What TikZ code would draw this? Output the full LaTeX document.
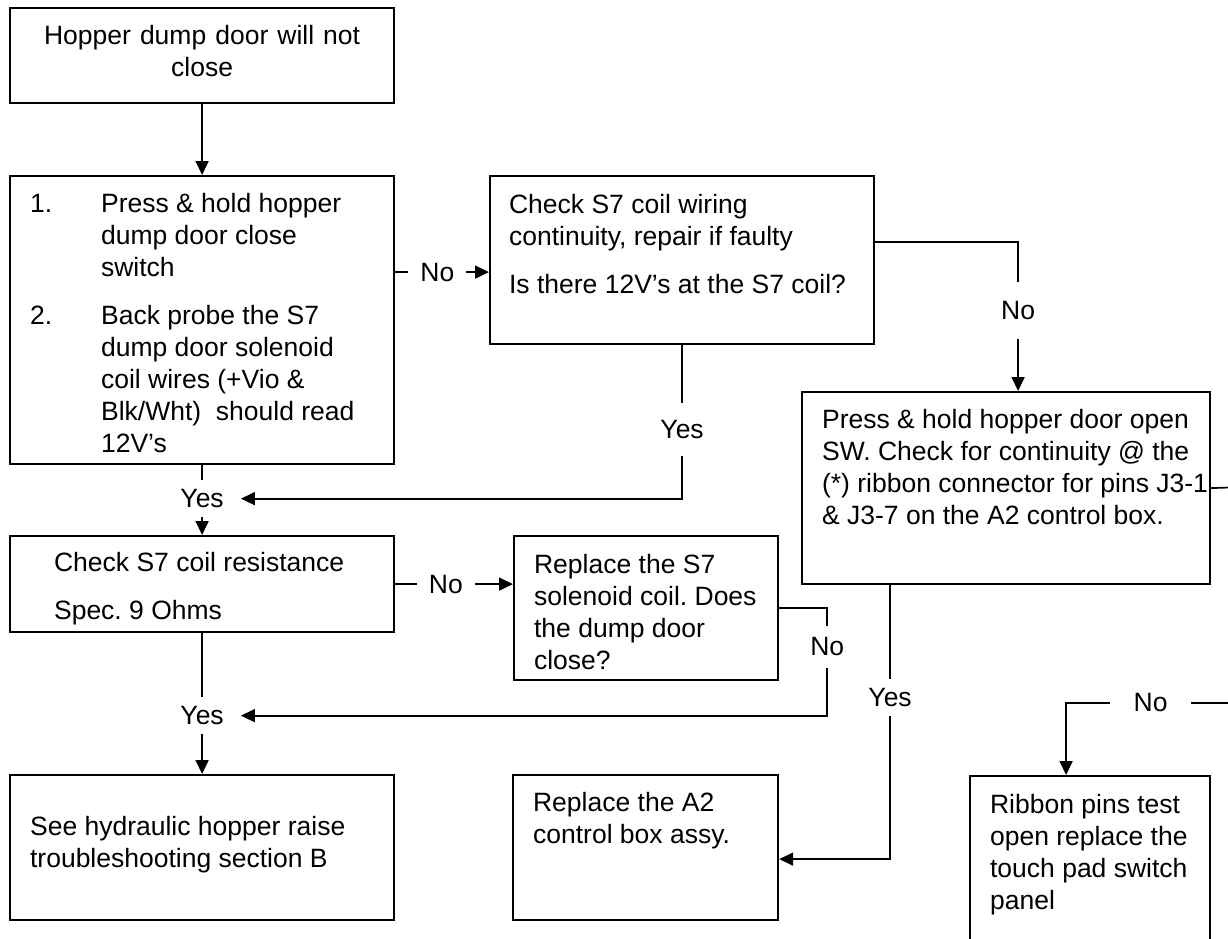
\documentclass[tikz,border=0pt]{standalone}
\usepackage{fontspec}
\setmainfont{Liberation Sans}
\usetikzlibrary{arrows.meta, positioning, calc}

\begin{document}
\begin{tikzpicture}[
    x=1pt, y=-1pt,
    every node/.style={font=\fontsize{26.5}{32}\selectfont, execute at begin node={\spaceskip=0pt\frenchspacing}},
    box/.style={draw, line width=2.2pt, anchor=north west, inner xsep=20pt, inner ysep=0pt, text height=36pt, align=left},
    lbl/.style={fill=white, inner xsep=12pt, inner ysep=14pt},
    jct/.style={inner xsep=17pt, inner ysep=9pt},
    arr/.style={-{Triangle[length=14pt, width=13pt]}, line width=1.7pt},
    wire/.style={line width=1.7pt}
]
    \useasboundingbox (0,0) rectangle (1228,939);
    \clip (0,0) rectangle (1228,939);

    % boxes
    \node[box, align=center, inner xsep=10pt, text width=364pt, text depth=59pt] (start) at (9,7)
        {Hopper dump door will not\\close};
    \node[box, text width=344pt, text depth=252pt] (probe) at (9,175)
        {\makebox[71pt][l]{1.}Press \& hold hopper\\
         \hspace*{71pt}dump door close\\
         \hspace*{71pt}switch\\[16pt]
         \makebox[71pt][l]{2.}Back probe the S7\\
         \hspace*{71pt}dump door solenoid\\
         \hspace*{71pt}coil wires (+Vio \&\\
         \hspace*{71pt}Blk/Wht)\ \ should read\\
         \hspace*{71pt}12V’s};
    \node[box, inner xsep=19pt, text width=346pt, text height=37pt, text depth=131pt] (wiring) at (489,175)
        {Check S7 coil wiring\\continuity, repair if faulty\\[16pt]Is there 12V’s at the S7 coil?};
    \node[box, text width=368pt, text depth=156pt] (openchk) at (801,391)
        {Press \& hold hopper door open\\SW. Check for continuity @ the\\\mbox{(*) ribbon connector for pins J3-1}\\\& J3-7 on the A2 control box.};
    \node[box, inner xsep=44pt, text width=296pt, text height=35pt, text depth=61pt] (resist) at (9,535)
        {Check S7 coil resistance\\[16pt]Spec. 9 Ohms};
    \node[box, text width=224pt, text height=37pt, text depth=107pt] (newcoil) at (513,535)
        {Replace the S7\\solenoid coil. Does\\the dump door\\close?};
    \node[box, text width=344pt, text height=60pt, text depth=85pt] (hydr) at (9,774)
        {See hydraulic hopper raise\\troubleshooting section B};
    \node[box, text width=225pt, text depth=109pt] (newbox) at (512,774)
        {Replace the A2\\control box assy.};
    \node[box, text width=200pt, text height=37pt, text depth=153pt] (pad) at (969,775)
        {Ribbon pins test\\open replace the\\touch pad switch\\panel};

    % junction labels
    \node[jct, below=15pt of probe] (yes1) {Yes};
    \node[jct, below=64pt of resist] (yes2) {Yes};
    \coordinate (offr) at (1245,487);
    \coordinate (offn) at (1245,703);

    % connectors
    \draw[arr] (start) -- (probe);
    \draw[arr] ([yshift=-12pt]wiring.west -| probe.east) -- node[lbl, pos=0.45] {No} ([yshift=-12pt]wiring.west);
    \draw[arr] ([yshift=18pt]wiring.east) -| node[lbl, pos=0.73, inner ysep=19pt] {No} ([xshift=12pt]openchk.north);
    \draw[arr] (wiring.south) |- node[lbl, pos=0.275, inner ysep=17pt] {Yes} (yes1.east);
    \draw[wire] (probe.south) -- (yes1.north);
    \draw[arr] (yes1.south) -- (resist.north);
    \draw[arr] (resist.east) -- node[lbl, pos=0.43] {No} (resist.east -| newcoil.west);
    \draw[arr] (newcoil.east) -- ++(48,0) |- node[lbl, pos=0.18, inner ysep=12pt] {No} (yes2.east);
    \draw[wire] (resist.south) -- (yes2.north);
    \draw[arr] (yes2.south) -- (hydr.north);
    \draw[arr] ([xshift=-116pt]openchk.south) |- node[lbl, pos=0.205, inner ysep=9.5pt] {Yes} ([yshift=-11.5pt]newbox.east);
    \draw[wire] (openchk.east) -- (offr);
    \draw[arr] (offn) -| node[lbl, pos=0.264, inner xsep=24pt] {No} ([xshift=-24pt]pad.north);
\end{tikzpicture}
\end{document}
